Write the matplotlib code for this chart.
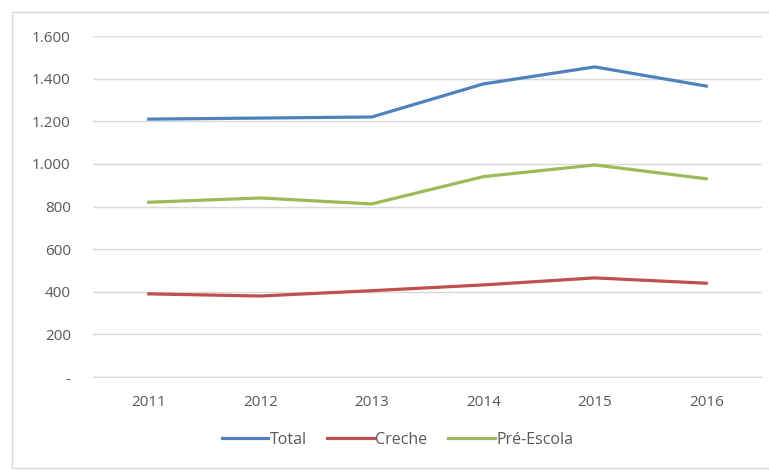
import matplotlib
matplotlib.use('Agg')
from matplotlib import pyplot as plt
from matplotlib.patches import Rectangle
from matplotlib.ticker import FuncFormatter

anos = ['2011', '2012', '2013', '2014', '2015', '2016']
total = [1210, 1215, 1220, 1375, 1455, 1365]
creche = [390, 380, 405, 432, 465, 440]
pre_escola = [820, 840, 812, 940, 995, 930]

plt.rcParams['font.family'] = ['Open Sans', 'DejaVu Sans']

fig = plt.figure(figsize=(7.69, 4.70), dpi=100)
# moldura externa
fig.patches.append(Rectangle((12 / 769, 2 / 470), 1, 1 - 14 / 470, transform=fig.transFigure,
                             fill=False, edgecolor='#d9d9d9', lw=1))
ax = fig.add_axes([93 / 769, 1 - 377 / 470, (762 - 93) / 769, (377 - 36) / 470])

x = range(len(anos))
ax.plot(x, total, color='#4F81BD', lw=2.3, label='Total')
ax.plot(x, creche, color='#C0504D', lw=2.3, label='Creche')
ax.plot(x, pre_escola, color='#9BBB59', lw=2.3, label='Pré-Escola')

ax.set_xlim(-0.5, 5.5)
ax.set_ylim(0, 1600)
ax.set_yticks(range(0, 1601, 200))
ax.yaxis.set_major_formatter(FuncFormatter(
    lambda v, p: '-' if v == 0 else f'{int(v):,}'.replace(',', '.')))
ax.set_xticks(list(x))
ax.set_xticklabels(anos)
ax.grid(axis='y', color='#d9d9d9', lw=1)
ax.set_axisbelow(True)
for s in ['top', 'right', 'left']:
    ax.spines[s].set_visible(False)
ax.spines['bottom'].set_color('#d9d9d9')
ax.tick_params(length=0, colors='#595959', labelsize=11)
ax.tick_params(axis='y', pad=16)
ax.tick_params(axis='x', pad=13)

ax.legend(loc='center', bbox_to_anchor=(0.455, -0.185), ncol=3, frameon=False,
          fontsize=11.5, labelcolor='#595959', handlelength=2.9, handletextpad=0.1,
          columnspacing=1.3)

fig.savefig('out.png', dpi=100)
